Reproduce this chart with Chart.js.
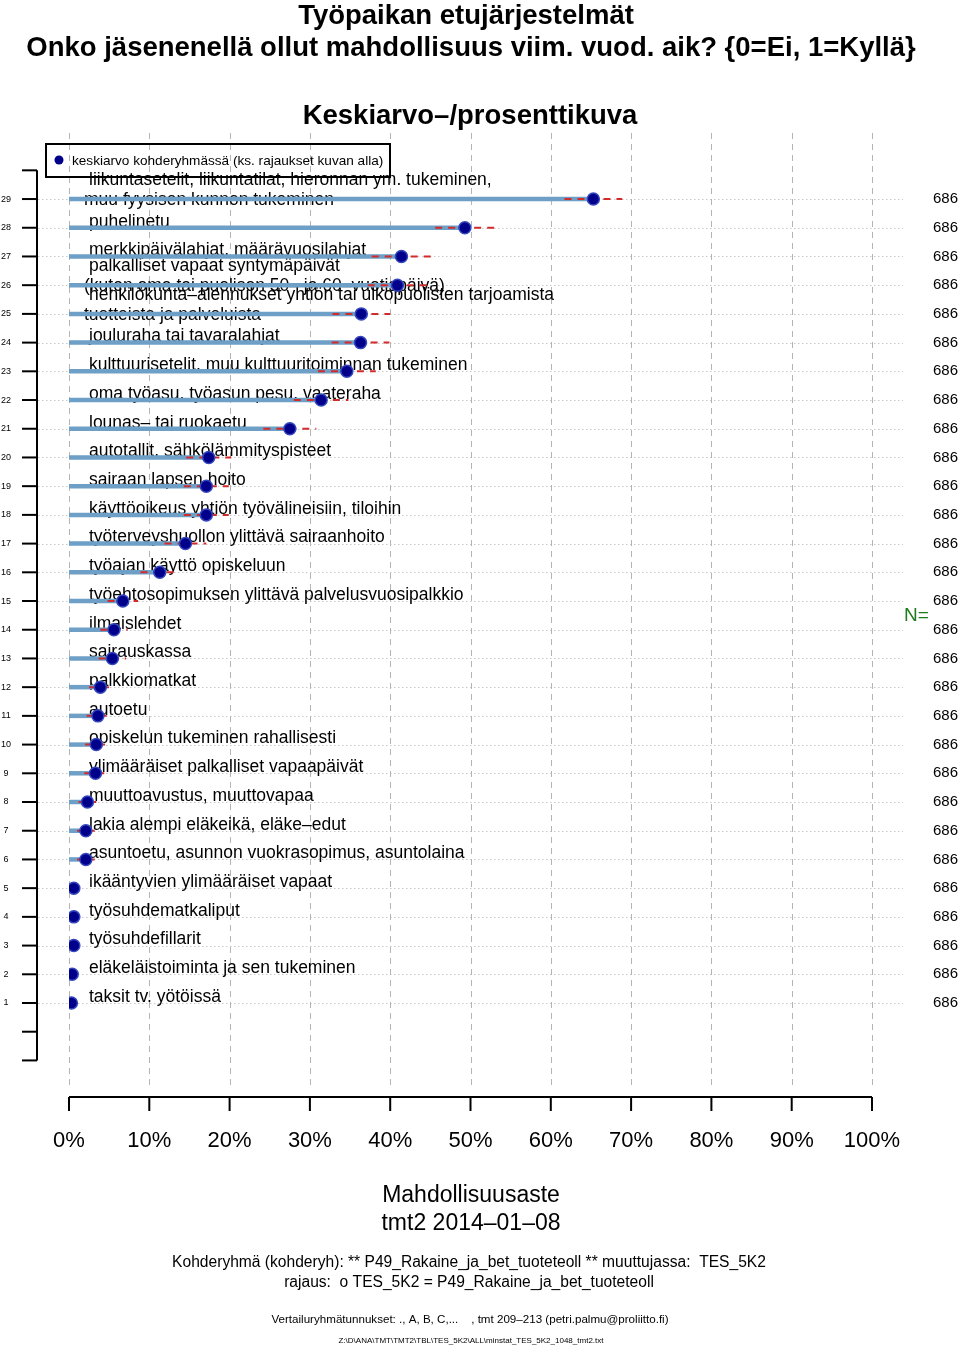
<!DOCTYPE html>
<html>
<head>
<meta charset="utf-8">
<script src="https://cdn.jsdelivr.net/npm/chart.js@4.4.0/dist/chart.umd.min.js"></script>
<style>
  html, body { margin: 0; padding: 0; background: #fff; }
  canvas { display: block; }
</style>
</head>
<body>
<canvas id="myChart" width="960" height="1346"></canvas>
<script>
// rivit 29 -> 1 (ylhäältä alas)
var rows = [29, 28, 27, 26, 25, 24, 23, 22, 21, 20, 19, 18, 17, 16, 15, 14, 13, 12, 11, 10, 9, 8, 7, 6, 5, 4, 3, 2, 1];
var labels = [
    ['liikuntasetelit, liikuntatilat, hieronnan ym. tukeminen,', 'muu fyysisen kunnon tukeminen'],
    ['puhelinetu'],
    ['merkkipäivälahjat, määrävuosilahjat'],
    ['palkalliset vapaat syntymäpäivät', '(kuten oma tai puolison 50– ja 60–vuotispäivä)'],
    ['henkilökunta–alennukset yhtiön tai ulkopuolisten tarjoamista', 'tuotteista ja palveluista'],
    ['jouluraha tai tavaralahjat'],
    ['kulttuurisetelit, muu kulttuuritoiminnan tukeminen'],
    ['oma työasu, työasun pesu, vaateraha'],
    ['lounas– tai ruokaetu'],
    ['autotallit, sähkölämmityspisteet'],
    ['sairaan lapsen hoito'],
    ['käyttöoikeus yhtiön työvälineisiin, tiloihin'],
    ['työterveyshuollon ylittävä sairaanhoito'],
    ['työajan käyttö opiskeluun'],
    ['työehtosopimuksen ylittävä palvelusvuosipalkkio'],
    ['ilmaislehdet'],
    ['sairauskassa'],
    ['palkkiomatkat'],
    ['autoetu'],
    ['opiskelun tukeminen rahallisesti'],
    ['ylimääräiset palkalliset vapaapäivät'],
    ['muuttoavustus, muuttovapaa'],
    ['lakia alempi eläkeikä, eläke–edut'],
    ['asuntoetu, asunnon vuokrasopimus, asuntolaina'],
    ['ikääntyvien ylimääräiset vapaat'],
    ['työsuhdematkaliput'],
    ['työsuhdefillarit'],
    ['eläkeläistoiminta ja sen tukeminen'],
    ['taksit tv. yötöissä']
];
// keskiarvot (%)
var means = [65.3, 49.3, 41.4, 40.9, 36.4, 36.3, 34.6, 31.4, 27.5, 17.4, 17.1, 17.1, 14.5, 11.3, 6.7, 5.6, 5.4, 3.9, 3.6, 3.4, 3.3, 2.3, 2.1, 2.1, 0.6, 0.6, 0.6, 0.4, 0.3];
// luottamusvälit (%)
var ciLow = [61.7, 45.6, 37.7, 37.2, 32.8, 32.7, 31.0, 28.0, 24.2, 14.6, 14.3, 14.3, 11.9, 8.9, 4.8, 3.9, 3.7, 2.5, 2.2, 2.0, 1.9, 1.2, 1.0, 1.0, 0.1, 0.1, 0.1, 0.0, 0.0];
var ciHigh = [68.9, 53.0, 45.1, 44.6, 40.0, 39.9, 38.2, 34.8, 30.8, 20.2, 19.9, 19.9, 17.1, 13.7, 8.6, 7.3, 7.1, 5.3, 5.0, 4.8, 4.7, 3.4, 3.2, 3.2, 1.1, 1.1, 1.1, 0.8, 0.7];
var nValues = [686, 686, 686, 686, 686, 686, 686, 686, 686, 686, 686, 686, 686, 686, 686, 686, 686, 686, 686, 686, 686, 686, 686, 686, 686, 686, 686, 686, 686];
var xTicks = [0, 10, 20, 30, 40, 50, 60, 70, 80, 90, 100];
var yTicks = [30, 29, 28, 27, 26, 25, 24, 23, 22, 21, 20, 19, 18, 17, 16, 15, 14, 13, 12, 11, 10, 9, 8, 7, 6, 5, 4, 3, 2, 1, 0, -1];

var FONT = '"Liberation Sans", Arial, Helvetica, sans-serif';

var datasets = [];
// pisteet
datasets.push({
    label: 'keskiarvo',
    data: rows.map(function (r, i) { return { x: means[i], y: r }; }),
    pointRadius: 6,
    pointBackgroundColor: '#00008b',
    pointBorderColor: '#3446bd',
    pointBorderWidth: 1.5,
    showLine: false,
    order: 0
});
rows.forEach(function (r, i) {
    // luottamusväli
    datasets.push({
        data: [{ x: ciLow[i], y: r }, { x: ciHigh[i], y: r }],
        showLine: true,
        borderColor: '#d22b2b',
        borderWidth: 2,
        borderDash: [7, 6],
        pointRadius: 0,
        order: 1
    });
    // palkki
    datasets.push({
        data: [{ x: 0, y: r }, { x: means[i], y: r }],
        showLine: true,
        borderColor: '#6e9fc7',
        borderWidth: 4.5,
        pointRadius: 0,
        order: 2
    });
});

var frame = {
    id: 'frame',
    beforeDatasetsDraw: function (chart) {
        var c = chart.ctx, xs = chart.scales.x, ys = chart.scales.y, a = chart.chartArea;
        c.save();
        // vaakasuorat pisteviivat
        c.strokeStyle = '#c8c8c8';
        c.lineWidth = 1;
        c.setLineDash([1.5, 2.5]);
        rows.forEach(function (r) {
            var y = Math.round(ys.getPixelForValue(r)) + 0.5;
            c.beginPath(); c.moveTo(38, y); c.lineTo(903, y); c.stroke();
        });
        // pystysuorat katkoviivat
        c.strokeStyle = '#b4b4b4';
        c.setLineDash([6, 5]);
        xTicks.forEach(function (t) {
            var x = Math.round(xs.getPixelForValue(t)) + 0.5;
            c.beginPath(); c.moveTo(x, a.top); c.lineTo(x, a.bottom); c.stroke();
        });
        c.setLineDash([]);
        // y-akseli
        c.strokeStyle = '#000';
        c.lineWidth = 2;
        var yTop = ys.getPixelForValue(30), yBot = ys.getPixelForValue(-1);
        c.beginPath(); c.moveTo(37, yTop); c.lineTo(37, yBot); c.stroke();
        yTicks.forEach(function (t) {
            var y = ys.getPixelForValue(t);
            c.beginPath(); c.moveTo(22, y); c.lineTo(37, y); c.stroke();
        });
        c.fillStyle = '#000';
        c.font = '9px ' + FONT;
        c.textAlign = 'center';
        c.textBaseline = 'middle';
        rows.forEach(function (r) { c.fillText(String(r), 6, ys.getPixelForValue(r)); });
        // x-akseli
        var axY = 1097;
        c.beginPath(); c.moveTo(xs.getPixelForValue(0), axY); c.lineTo(xs.getPixelForValue(100), axY); c.stroke();
        c.font = '22px ' + FONT;
        xTicks.forEach(function (t) {
            var x = xs.getPixelForValue(t);
            c.beginPath(); c.moveTo(x, axY); c.lineTo(x, axY + 14); c.stroke();
            c.fillText(t + '%', x, 1141);
        });
        // rivien tekstit
        c.font = '17.5px ' + FONT;
        c.textAlign = 'left';
        rows.forEach(function (r, i) {
            var y = ys.getPixelForValue(r);
            var lines = labels[i];
            if (lines.length === 1) {
                c.fillText(lines[0], 89, y - 6);
            } else {
                c.fillText(lines[0], 89, y - 19);
                c.fillText(lines[1], 84, y + 1);
            }
        });
        c.restore();
    },
    afterDraw: function (chart) {
        var c = chart.ctx, ys = chart.scales.y;
        c.save();
        c.fillStyle = '#000';
        c.textAlign = 'center';
        c.textBaseline = 'middle';
        c.font = 'bold 27.5px ' + FONT;
        c.fillText('Työpaikan etujärjestelmät', 466, 16);
        c.fillText('Onko jäsenenellä ollut mahdollisuus viim. vuod. aik? {0=Ei, 1=Kyllä}', 471, 48);
        c.fillText('Keskiarvo–/prosenttikuva', 470, 116);
        // selite
        c.lineWidth = 2;
        c.strokeStyle = '#000';
        c.strokeRect(46, 144, 344, 33);
        c.fillStyle = '#00008b';
        c.beginPath(); c.arc(59, 160, 4.5, 0, Math.PI * 2); c.fill();
        c.fillStyle = '#000';
        c.textAlign = 'left';
        c.font = '13.6px ' + FONT;
        c.fillText('keskiarvo kohderyhmässä (ks. rajaukset kuvan alla)', 72, 161);
        // N-sarake
        c.font = '15px ' + FONT;
        rows.forEach(function (r, i) { c.fillText(String(nValues[i]), 933, ys.getPixelForValue(r)); });
        c.fillStyle = '#1d7a1d';
        c.font = '19px ' + FONT;
        c.fillText('N=', 904, 616);
        // alaosan tekstit
        c.fillStyle = '#000';
        c.textAlign = 'center';
        c.font = '23px ' + FONT;
        c.fillText('Mahdollisuusaste', 471, 1196);
        c.fillText('tmt2 2014–01–08', 471, 1224);
        c.font = '15.6px ' + FONT;
        c.fillText('Kohderyhmä (kohderyh): ** P49_Rakaine_ja_bet_tuoteteoll ** muuttujassa:  TES_5K2', 469, 1263);
        c.fillText('rajaus:  o TES_5K2 = P49_Rakaine_ja_bet_tuoteteoll', 469, 1283);
        c.font = '11.6px ' + FONT;
        c.fillText('Vertailuryhmätunnukset: ., A, B, C,...    , tmt 209–213 (petri.palmu@proliitto.fi)', 470, 1320);
        c.font = '8px ' + FONT;
        c.fillText('Z:\\D\\ANA\\TMT\\TMT2\\TBL\\TES_5K2\\ALL\\minstat_TES_5K2_1048_tmt2.txt', 471, 1341);
        c.restore();
    }
};

var ctx = document.getElementById('myChart').getContext('2d');
var myChart = new Chart(ctx, {
    type: 'scatter',
    data: { datasets: datasets },
    options: {
        responsive: false,
        animation: false,
        devicePixelRatio: 1,
        layout: { padding: { left: 69, right: 88, top: 133, bottom: 256 } },
        scales: {
            x: { type: 'linear', min: 0, max: 100, display: false },
            y: { type: 'linear', min: -2.03, max: 31.3, display: false }
        },
        plugins: {
            legend: { display: false },
            tooltip: { enabled: false }
        }
    },
    plugins: [frame]
});
</script>
</body>
</html>
